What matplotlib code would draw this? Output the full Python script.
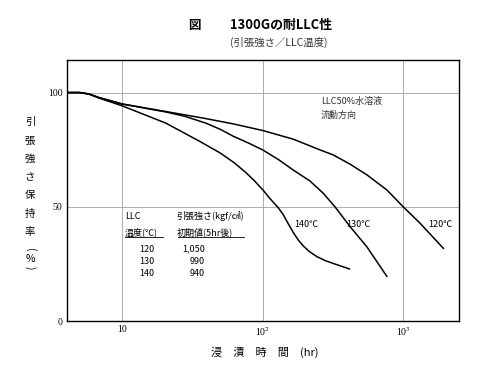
import matplotlib.pyplot as plt
import numpy as np

plt.rcParams['font.family'] = ['Noto Sans CJK JP', 'DejaVu Sans']
plt.rcParams['mathtext.fontset'] = 'stix'

# ---------------------------------------------------------------
# Data (hours, retention %)
# ---------------------------------------------------------------
hours_120 = [4, 5, 5.8, 6.85, 10, 20.5, 39.5, 61.7, 100, 165, 256, 318, 420, 551, 764, 1000, 1318, 1932]
ret_120 = [100, 100, 99.4, 97.8, 95.0, 91.7, 88.6, 86.3, 83.4, 79.6, 74.9, 72.7, 68.6, 64.0, 57.4, 50.0, 42.8, 31.8]

hours_130 = [4, 5, 5.8, 6.85, 10, 20.5, 28, 39.5, 50, 61.7, 80, 100, 130, 165, 217, 270, 327, 419, 551, 764]
ret_130 = [100, 100, 99.4, 97.8, 95.0, 91.5, 89.6, 86.6, 83.9, 80.9, 77.8, 74.9, 70.6, 66.1, 61.3, 55.9, 50.0, 41.3, 32.5, 19.6]

hours_140 = [4, 5, 5.8, 6.85, 10, 20.5, 36, 50, 61.7, 75, 86, 100, 112, 129, 140, 152, 165, 180, 195, 215, 243, 280, 318, 414]
ret_140 = [100, 100, 99.3, 97.6, 94.2, 86.6, 78.5, 73.5, 69.6, 65.3, 61.8, 57.5, 53.8, 49.6, 46.6, 42.6, 38.8, 35.3, 32.8, 30.4, 28.2, 26.4, 25.2, 22.8]

series = [(hours_120, ret_120), (hours_130, ret_130), (hours_140, ret_140)]

curve_labels = ['120℃', '130℃', '140℃']
curve_label_x = [1496, 392, 167]

table_temps = ['120', '130', '140']
table_values = ['1,050', '990', '940']

ylabel_chars = ['引', '張', '強', 'さ', '保', '持', '率']

# ---------------------------------------------------------------
fig = plt.figure(figsize=(5.0, 3.72), dpi=100)
ax = fig.add_axes([0.133, 0.137, 0.785, 0.702])

for h, r in series:
    ax.plot(h, r, color='black', lw=1.1, solid_joinstyle='round')

ax.set_xscale('log')
ax.set_xlim(4.02, 2494)
ax.set_ylim(0, 114.3)

ax.set_xticks([10, 100, 1000])
ax.set_xticklabels(['10', '10$^2$', '10$^3$'], fontfamily='Liberation Serif', fontsize=7)
ax.minorticks_off()
ax.set_yticks([0, 50, 100])
ax.set_yticklabels(['0', '50', '100'], fontfamily='Liberation Serif', fontsize=7)
ax.tick_params(length=0, pad=3)
ax.grid(color='#a0a0a0', lw=0.6)
for s in ax.spines.values():
    s.set_linewidth(1.0)

# curve labels
for lab, x in zip(curve_labels, curve_label_x):
    ax.text(x, 42.4, lab, fontsize=6.5, va='center', ha='left')

# medium note
ax.text(259, 96.1, 'LLC50%水溶液', fontsize=6.5, va='center', ha='left', color='#333333')
ax.text(259, 90.2, '流動方向', fontsize=6.5, va='center', ha='left', color='#333333')

# table of initial strength
ax.text(10.5, 45.9, 'LLC', fontsize=6.5, va='center', ha='left')
ax.text(10.5, 38.9, '温度(℃)', fontsize=6.5, va='center', ha='left')
ax.text(24.4, 45.9, '引張強さ(kgf/㎠)', fontsize=6.5, va='center', ha='left')
ax.text(24.4, 38.9, '初期値(5hr後)', fontsize=6.5, va='center', ha='left')
ax.plot([10.5, 19.5], [36.8, 36.8], color='black', lw=0.6)
ax.plot([24.9, 74], [36.8, 36.8], color='black', lw=0.6)
for i, (t, v) in enumerate(zip(table_temps, table_values)):
    y = 31.4 - i * 5.3
    ax.text(14.9, y, t, fontsize=6.5, va='center', ha='center')
    ax.text(38.8, y, v, fontsize=6.5, va='center', ha='right')

# title
fig.text(194 / 500, 1 - 25 / 372, '図', fontsize=9, ha='center', va='center', fontweight='bold')
fig.text(230 / 500, 1 - 25 / 372, '1300Gの耐LLC性', fontsize=9.3, ha='left', va='center', fontweight='bold')
fig.text(230 / 500, 1 - 42 / 372, '(引張強さ／LLC温度)', fontsize=7.5, ha='left', va='center', color='#333333')

# vertical y label
ys = [122, 141, 159, 177, 195, 214, 232]
for ch, y in zip(ylabel_chars, ys):
    fig.text(30 / 500, 1 - y / 372, ch, fontsize=7.5, ha='center', va='center')
fig.text(30 / 500, 1 - 250 / 372, '(', fontsize=7.5, ha='center', va='center', rotation=-90)
fig.text(30 / 500, 1 - 259 / 372, '%', fontsize=7.5, ha='center', va='center')
fig.text(30 / 500, 1 - 268 / 372, ')', fontsize=7.5, ha='center', va='center', rotation=-90)

# x label
fig.text(265 / 500, 1 - 352 / 372, '浸　漬　時　間　(hr)', fontsize=8, ha='center', va='center')

fig.savefig('out.png', dpi=100)
